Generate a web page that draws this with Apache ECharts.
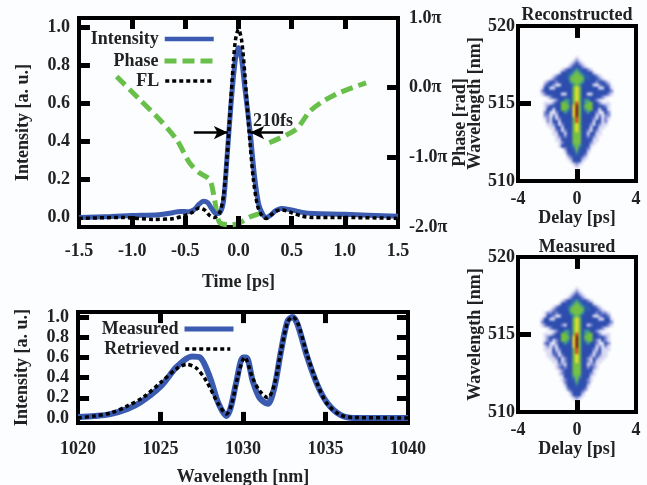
<!DOCTYPE html>
<html><head><meta charset="utf-8">
<style>html,body{margin:0;padding:0;background:#fcfdfe}
#h,#c{position:absolute;left:0;top:0;width:647px;height:485px}
#h{filter:blur(1px)}#c{filter:blur(0.45px)}</style>
<script src="https://cdn.jsdelivr.net/npm/echarts@6/dist/echarts.min.js"></script>
</head><body><div id="h"></div><div id="c"></div>
<script>
// --- pulse panel values (time in ps, intensity in a.u., phase in units of pi)
const intensity = [[-1.5,0],[-1.2,0.005],[-1,0.01],[-0.75,0.015],[-0.62,0.025],[-0.55,0.032],[-0.47,0.03],[-0.42,0.04],[-0.37,0.07],[-0.33,0.085],[-0.29,0.078],[-0.25,0.045],[-0.21,0.02],[-0.17,0.03],[-0.14,0.09],[-0.11,0.3],[-0.07,0.6],[-0.03,0.83],[0,0.895],[0.03,0.83],[0.06,0.68],[0.11,0.447],[0.15,0.22],[0.19,0.07],[0.23,0.015],[0.26,0],[0.3,0.012],[0.35,0.036],[0.4,0.048],[0.5,0.04],[0.6,0.027],[0.7,0.021],[1,0.017],[1.5,0.006]];
const fl = [[-1.5,-0.005],[-1.1,0],[-0.8,-0.01],[-0.62,-0.006],[-0.52,0.008],[-0.44,0.025],[-0.37,0.05],[-0.32,0.04],[-0.27,0.01],[-0.23,0],[-0.18,0.02],[-0.14,0.12],[-0.1,0.38],[-0.06,0.72],[-0.03,0.93],[0,0.99],[0.03,0.93],[0.06,0.75],[0.1,0.45],[0.14,0.2],[0.18,0.06],[0.22,0.01],[0.26,-0.005],[0.31,0.015],[0.36,0.035],[0.41,0.04],[0.5,0.025],[0.6,0.007],[0.7,0],[1,0],[1.5,-0.005]];
const phase = [[-1.146,0.16],[-0.93,-0.17],[-0.74,-0.46],[-0.58,-0.75],[-0.46,-1.08],[-0.37,-1.22],[-0.27,-1.32],[-0.225,-1.61],[-0.18,-1.93],[-0.085,-1.97],[0,-1.95],[0.1,-1.86],[0.21,-1.8],[0.26,-1.77],[null,null],[0.29,-0.79],[0.45,-0.68],[0.555,-0.58],[0.667,-0.345],[0.79,-0.2],[0.95,-0.07],[1.2,0.07]];
// --- spectrum panel values (wavelength in nm)
const measured = [[1020,0.01],[1021,0.02],[1021.9,0.035],[1023,0.09],[1023.75,0.15],[1025,0.31],[1026,0.51],[1026.9,0.61],[1027.4,0.6],[1028,0.4],[1028.5,0.15],[1029,0.02],[1029.25,0.1],[1029.6,0.36],[1030,0.6],[1030.2,0.6],[1030.6,0.36],[1031,0.2],[1031.5,0.14],[1031.9,0.3],[1032.3,0.66],[1032.7,0.96],[1033,1],[1033.3,0.93],[1033.9,0.6],[1034.5,0.33],[1035.1,0.15],[1035.9,0.03],[1036.7,0],[1040,0]];
const retrieved = [[1020,0],[1021,0.02],[1022,0.05],[1023,0.12],[1024,0.21],[1025,0.35],[1026,0.49],[1026.6,0.53],[1027.2,0.49],[1027.8,0.36],[1028.5,0.14],[1029,0.04],[1029.3,0.13],[1029.7,0.42],[1030.1,0.6],[1030.6,0.39],[1031,0.27],[1031.5,0.2],[1031.9,0.33],[1032.3,0.66],[1032.7,0.95],[1033,1],[1033.3,0.95],[1033.9,0.62],[1034.5,0.34],[1035.1,0.14],[1035.9,0.03],[1036.7,0.005],[1040,0]];
// --- FROG traces: one row per wavelength, 518.0 nm downward in 0.2 nm steps; one column per delay, -2.4 to 2.4 ps in 0.2 ps steps
const reconstructedRows = [
"0000000000001000000000000",
"0000000000012100000000000",
"0000000000123210000000000",
"0000000001233321000000000",
"0000000123345433210000000",
"0000001333456543331000000",
"0000123334566654433210000",
"0001233334666664433321000",
"0123323333566653333233210",
"0233201333356533331023320",
"1331133333367633333311331",
"2333333333367633333333332",
"1233333113367633113333321",
"0012333333367633333332100",
"0000123355367635533210000",
"0111233665368635663321110",
"0123333666379636663333210",
"0133133665379635663313310",
"0231023354379634533201320",
"0220213333379633333120220",
"0121312333368633332131210",
"0021331333368633331331200",
"0011231233367633321321100",
"0001133133367633313311000",
"0000123123367633213210000",
"0000113313366633133110000",
"0000012323366633232100000",
"0000011333366633331100000",
"0000001233366633321000000",
"0000001333356533310000000",
"0000000023346433200000000",
"0000000013335333100000000",
"0000000002334332000000000",
"0000000001233321000000000",
"0000000000133310000000000",
"0000000000012100000000000",
"0000000000001000000000000"];
const measuredRows = [
"0000000000001000000000000",
"0000000000012100000000000",
"0000000000123210000000000",
"0000000001233321000000000",
"0000000123345433210000000",
"0000001333456543331000000",
"0000123334566654433210000",
"0001233334666664433321000",
"0122323333566653333232210",
"0133201333356533331023320",
"1331133333367633333311331",
"2333333333367633333333332",
"1233333213367633123333321",
"0012333333367633333332100",
"0000123355367635533210000",
"0111233665368635663321110",
"0123333666379636663333210",
"0123123665379635663213210",
"0231023354379634533201320",
"0121213333379633333120210",
"0111312333368633332131110",
"0011321333368633331231100",
"0011231233367633321321100",
"0001123123367633213211000",
"0000113123367633213110000",
"0000012213366633122100000",
"0000012323366633232100000",
"0000001233366633331000000",
"0000001233366633321000000",
"0000000133356533310000000",
"0000000123346433210000000",
"0000000023335333200000000",
"0000000013334333100000000",
"0000000002333332000000000",
"0000000000233320000000000",
"0000000000133310000000000",
"0000000000012100000000000"];
// tick labels
const intensityTicks = [0,0.2,0.4,0.6,0.8,1];
const phaseTicks = [-2,-1,0,1];
const timeTicks = [-1.5,-1,-0.5,0,0.5,1,1.5];
const wavelengthTicks = [1020,1025,1030,1035,1040];
const delayTicks = [-4,0,4];
const frogWavelengthTicks = [510,515,520];
// inward tick marks on the frames
const intensityMarks = [0.2,0.4,0.6,0.8,1];
const phaseMarks = [-1,0];
const timeMarks = [-1,-0.5,0,0.5,1];
const wavelengthMarks = [1025,1030,1035];
const delayMarks = [0];
const frogWavelengthMarks = [515];

const F = 'Liberation Serif';
const INK = '#222';
const txt = {fontFamily:F,fontWeight:'bold',fontSize:18,color:INK};
const none = {show:false};

const delayCats = []; for (let i=0;i<=40;i++) delayCats.push((-4+i*0.2).toFixed(1));
const wlCats = []; for (let i=0;i<=50;i++) wlCats.push((510+i*0.2).toFixed(1));
function cells(rows){
  const out=[];
  rows.forEach((r,ri)=>{ [...r].forEach((ch,ci)=>{ const v=+ch; if(v>0) out.push([ci+8,40-ri,v]); }); });
  return out;
}
const fmtI = v => v.toFixed(1);

const gridBoxes = [
 {left:79,top:18,width:319,height:209,outerBoundsMode:'none'},
 {left:78,top:312,width:330,height:111,outerBoundsMode:'none'},
 {left:518,top:26,width:118,height:155,outerBoundsMode:'none'},
 {left:518,top:257,width:118,height:155,outerBoundsMode:'none'}
];
const grids = gridBoxes.map(g=>Object.assign({},g,{show:true,borderColor:'#000',borderWidth:4,backgroundColor:'transparent'}));

const base = {axisLine:{show:false,onZero:false},axisTick:none,splitLine:none,axisPointer:none};
const xAxis = [
 {...base,type:'value',gridIndex:0,min:-1.5,max:1.5,position:'bottom',name:'Time [ps]',nameLocation:'middle',nameGap:46,nameTextStyle:txt,
  axisLabel:{...txt,margin:15,customValues:timeTicks,formatter:fmtI}},
 {...base,type:'value',gridIndex:1,min:1020,max:1040,position:'bottom',name:'Wavelength [nm]',nameLocation:'middle',nameGap:45,nameTextStyle:txt,
  axisLabel:{...txt,margin:17,customValues:wavelengthTicks,formatter:v=>String(v)}},
 {...base,type:'value',gridIndex:2,min:-4,max:4,position:'bottom',name:'Delay [ps]',nameLocation:'middle',nameGap:28,nameTextStyle:txt,
  axisLabel:{...txt,margin:9,customValues:delayTicks,formatter:v=>String(v)}},
 {...base,type:'value',gridIndex:3,min:-4,max:4,position:'bottom',name:'Delay [ps]',nameLocation:'middle',nameGap:28,nameTextStyle:txt,
  axisLabel:{...txt,margin:9,customValues:delayTicks,formatter:v=>String(v)}}
];
const yAxis = [
 {...base,type:'value',gridIndex:0,min:-0.05,max:1.05,position:'left',name:'Intensity [a. u.]',nameLocation:'middle',nameGap:47,nameTextStyle:txt,
  axisLabel:{...txt,margin:9,customValues:intensityTicks,formatter:fmtI}},
 {...base,type:'value',gridIndex:0,min:-2,max:1,position:'right',name:'Phase [rad]',nameLocation:'middle',nameGap:45,nameRotate:90,nameTextStyle:txt,
  axisLabel:{...txt,margin:11,customValues:phaseTicks,formatter:v=>v.toFixed(1)+'π'}},
 {...base,type:'value',gridIndex:1,min:-0.05,max:1.05,position:'left',name:'Intensity [a. u.]',nameLocation:'middle',nameGap:47,nameTextStyle:txt,
  axisLabel:{...txt,margin:9,customValues:intensityTicks,formatter:fmtI}},
 {...base,type:'value',gridIndex:2,min:510,max:520,position:'left',name:'Wavelength [nm]',nameLocation:'middle',nameGap:31,nameTextStyle:txt,
  axisLabel:{...txt,margin:3,customValues:frogWavelengthTicks,formatter:v=>String(v)}},
 {...base,type:'value',gridIndex:3,min:510,max:520,position:'left',name:'Wavelength [nm]',nameLocation:'middle',nameGap:31,nameTextStyle:txt,
  axisLabel:{...txt,margin:3,customValues:frogWavelengthTicks,formatter:v=>String(v)}}
];
// frame ticks as short marker lines in data coordinates
const tickStyle = {color:'#000',width:5,type:'solid'};
const seg = (x1,y1,x2,y2) => [{coord:[x1,y1],symbol:'none',lineStyle:tickStyle},{coord:[x2,y2],symbol:'none'}];
const xSegs = (vals,y0,y1) => vals.map(v=>seg(v,y0,v,y1));
const ySegs = (vals,x0,x1) => vals.map(v=>seg(x0,v,x1,v));
const markers = d => ({silent:true,symbol:['none','none'],animation:false,label:{show:false},emphasis:{disabled:true},lineStyle:tickStyle,data:d});

const BLUE='#3a5bb0', GREEN='#68c04a';
const arrowLine = {color:'#000',width:2.5,type:'solid'};
const DOT=[4,3];
const series = [
 {name:'Phase',type:'line',xAxisIndex:0,yAxisIndex:1,data:phase,symbol:'none',smooth:0.25,connectNulls:false,z:3,
  lineStyle:{color:GREEN,width:5,type:[12,6]},itemStyle:{color:GREEN},
  markLine:markers(ySegs(phaseMarks,1.5,1.397))},
 {name:'Intensity',type:'line',xAxisIndex:0,yAxisIndex:0,data:intensity,symbol:'none',smooth:0.3,z:4,
  lineStyle:{color:BLUE,width:5},itemStyle:{color:BLUE},
  markLine:{silent:true,symbol:['none','arrow'],symbolSize:[10,14],animation:false,lineStyle:arrowLine,label:{show:false},
   data:[[{coord:[-0.42,0.447]},{coord:[-0.1,0.447]}],[{coord:[0.42,0.447]},{coord:[0.11,0.447]}],
    ...xSegs(timeMarks,-0.05,0.008),...xSegs(timeMarks,1.05,0.992),...ySegs(intensityMarks,-1.5,-1.397)]},
  markPoint:{silent:true,symbol:'rect',symbolSize:1,itemStyle:{color:'transparent'},animation:false,
   data:[{coord:[0.325,0.505],label:{show:true,position:'inside',formatter:'210fs',...txt}}]}},
 {name:'FL',type:'line',xAxisIndex:0,yAxisIndex:0,data:fl,symbol:'none',smooth:0.3,z:5,
  lineStyle:{color:'#000',width:3.5,type:DOT},itemStyle:{color:'#000'}},
 {name:'Measured',type:'line',xAxisIndex:1,yAxisIndex:2,data:measured,symbol:'none',smooth:0.3,z:4,
  lineStyle:{color:BLUE,width:6},itemStyle:{color:BLUE},
  markLine:markers([...xSegs(wavelengthMarks,-0.05,0.06),...xSegs(wavelengthMarks,1.05,0.94),...ySegs(intensityMarks,1020,1020.67),...ySegs(intensityMarks,1040,1039.33)])},
 {name:'Retrieved',type:'line',xAxisIndex:1,yAxisIndex:2,data:retrieved,symbol:'none',smooth:0.3,z:5,
  lineStyle:{color:'#000',width:3.5,type:DOT},itemStyle:{color:'#000'}},
 {name:'ticksA',type:'line',xAxisIndex:2,yAxisIndex:3,data:[[0,515]],symbol:'none',lineStyle:{width:0},
  markLine:markers([...xSegs(delayMarks,510,510.77),...xSegs(delayMarks,520,519.23),...ySegs(frogWavelengthMarks,-4,-3.12)])},
 {name:'ticksB',type:'line',xAxisIndex:3,yAxisIndex:4,data:[[0,515]],symbol:'none',lineStyle:{width:0},
  markLine:markers([...xSegs(delayMarks,510,510.77),...xSegs(delayMarks,520,519.23),...ySegs(frogWavelengthMarks,-4,-3.12)])}
];
const legendItem = (name,right,top,w,lw) => ({data:[name],right:right,top:top,orient:'horizontal',align:'right',itemWidth:w,itemHeight:14,itemGap:0,padding:0,selectedMode:false,
  itemStyle:{color:'transparent',borderWidth:0,opacity:0},lineStyle:{width:lw},textStyle:{...txt,padding:[0,1,0,0]}});
const option = {
 animation:false,
 backgroundColor:'transparent',
 textStyle:{fontFamily:F},
 grid:grids,xAxis,yAxis,series,
 legend:[legendItem('Intensity',431,30,49,4.5),legendItem('Phase',431,52,49,5),legendItem('FL',431,72,49,3.5),
         legendItem('Measured',411,320,49,5),legendItem('Retrieved',415,340,45,3.5)],
 title:[{text:'Reconstructed',left:577,top:6,textAlign:'center',padding:0,textStyle:{...txt}},
        {text:'Measured',left:577,top:238,textAlign:'center',padding:0,textStyle:{...txt}}]
};
// FROG traces sit on a softened layer under the axes, on the same grid boxes
const heatOption = {
 animation:false,
 backgroundColor:'transparent',
 grid:[gridBoxes[2],gridBoxes[3]],
 xAxis:[{type:'category',gridIndex:0,data:delayCats,show:false},{type:'category',gridIndex:1,data:delayCats,show:false}],
 yAxis:[{type:'category',gridIndex:0,data:wlCats,show:false},{type:'category',gridIndex:1,data:wlCats,show:false}],
 series:[
  {name:'Reconstructed trace',type:'heatmap',xAxisIndex:0,yAxisIndex:0,data:cells(reconstructedRows),progressive:0},
  {name:'Measured trace',type:'heatmap',xAxisIndex:1,yAxisIndex:1,data:cells(measuredRows),progressive:0}
 ],
 visualMap:{show:false,type:'continuous',seriesIndex:[0,1],min:0,max:9,dimension:2,
  inRange:{color:['#ffffff','#d9d9f2','#7f8ad2','#2c4cae','#2a5cae','#3d9a90','#72c040','#f2e02c','#e8401c','#7a1010']}}
};
echarts.init(document.getElementById('h'),null,{renderer:'canvas'}).setOption(heatOption);
echarts.init(document.getElementById('c'),null,{renderer:'canvas'}).setOption(option);
</script></body></html>
